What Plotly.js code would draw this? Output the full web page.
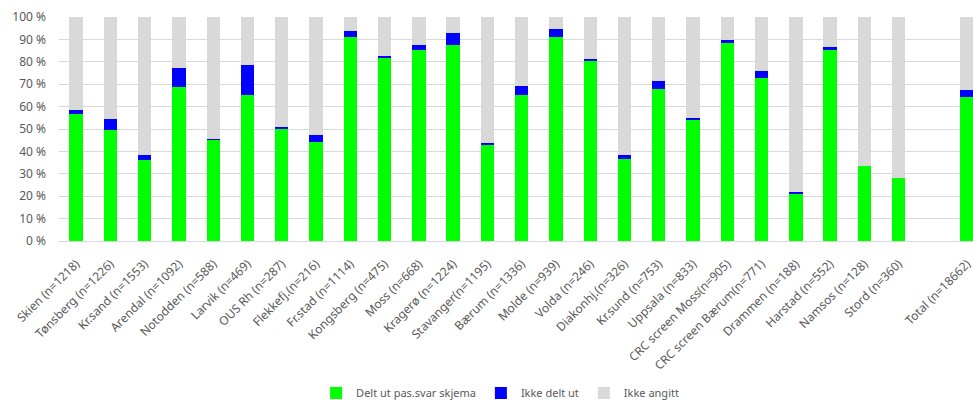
<!DOCTYPE html>
<html>
<head>
<meta charset="utf-8">
<script src="https://cdn.plot.ly/plotly-3.0.1.min.js"></script>
<style>
  html, body { margin: 0; padding: 0; background: #fff; }
  #chart { width: 973px; height: 400px; }
</style>
</head>
<body>
<div id="chart"></div>
<script>
// Sites (with sample sizes); the blank entry leaves a gap before the total
const sites = [
  "Skien (n=1218)", "Tønsberg (n=1226)", "Kr.sand (n=1553)", "Arendal (n=1092)",
  "Notodden (n=588)", "Larvik (n=469)", "OUS Rh (n=287)", "Flekkefj.(n=216)",
  "Fr.stad (n=1114)", "Kongsberg (n=475)", "Moss (n=668)", "Kragerø (n=1224)",
  "Stavanger(n=1195)", "Bærum (n=1336)", "Molde (n=939)", "Volda (n=246)",
  "Diakonhj.(n=326)", "Kr.sund (n=753)", "Uppsala (n=833)", "CRC screen Moss(n=905)",
  "CRC screen Bærum(n=771)", "Drammen (n=188)", "Harstad (n=552)", "Namsos (n=128)",
  "Stord (n=360)", " ", "Total (n=18662)"
];

// Share (%) handed the patient questionnaire
const deltUt = [
  56.8, 49.4, 36.2, 68.6, 44.9, 65.3, 49.9, 44.3,
  91.1, 81.8, 85.1, 87.5, 42.9, 65.3, 91.1, 80.2,
  36.5, 67.7, 54.2, 88.5, 72.8, 20.8, 85.1, 33.3,
  28.0, null, 64.1
];

// Share (%) not handed out
const ikkeDeltUt = [
  1.8, 4.9, 2.0, 8.5, 0.6, 13.4, 1.1, 3.0,
  2.5, 0.9, 2.5, 5.2, 1.0, 4.0, 3.7, 0.9,
  1.7, 3.7, 0.9, 1.4, 3.1, 0.9, 1.7, 0.0,
  0.0, null, 3.5
];

// Share (%) not stated
const ikkeAngitt = [
  41.4, 45.7, 61.8, 22.9, 54.5, 21.3, 49.0, 52.7,
  6.4, 17.3, 12.4, 7.3, 56.1, 30.7, 5.2, 18.9,
  61.8, 28.6, 44.9, 10.1, 24.1, 78.3, 13.2, 66.7,
  72.0, null, 32.4
];

const yTicks = [0, 10, 20, 30, 40, 50, 60, 70, 80, 90, 100];

const font = "Noto Sans, Open Sans, sans-serif";
const textGray = "#595959";

const traces = [
  { name: "Delt ut pas.svar skjema", y: deltUt, color: "#00ff00" },
  { name: "Ikke delt ut", y: ikkeDeltUt, color: "#0000ff" },
  { name: "Ikke angitt", y: ikkeAngitt, color: "#d9d9d9" }
].map(s => ({
  type: "bar",
  x: sites,
  y: s.y,
  name: s.name,
  marker: { color: s.color, line: { width: 0 } },
  hoverinfo: "x+y+name"
}));

const layout = {
  width: 973,
  height: 400,
  barmode: "stack",
  bargap: 0.61,
  paper_bgcolor: "#ffffff",
  plot_bgcolor: "#ffffff",
  margin: { l: 59, r: 0, t: 17, b: 159 },
  font: { family: font, color: textGray, size: 12 },
  showlegend: true,
  legend: {
    orientation: "h",
    xref: "container", yref: "container",
    x: 0.514, xanchor: "center",
    y: 0.0175, yanchor: "middle",
    font: { family: font, size: 11, color: textGray },
    itemwidth: 30,
    traceorder: "normal"
  },
  xaxis: {
    type: "category",
    categoryorder: "array",
    categoryarray: sites,
    range: [-0.5, 26.17],
    automargin: false,
    tickangle: -45,
    tickfont: { family: font, size: 12, color: textGray },
    ticklabelstandoff: 10,
    showgrid: false,
    showline: true,
    linecolor: "#d9d9d9",
    linewidth: 1,
    ticks: "",
    zeroline: false,
    fixedrange: true
  },
  yaxis: {
    range: [0, 100],
    automargin: false,
    tickvals: yTicks,
    ticktext: yTicks.map(v => v + " %"),
    tickfont: { family: font, size: 12, color: textGray },
    showgrid: true,
    gridcolor: "#d9d9d9",
    gridwidth: 1,
    zeroline: false,
    showline: false,
    ticks: "",
    ticklabelstandoff: 12,
    fixedrange: true
  }
};

Plotly.newPlot("chart", traces, layout, { displayModeBar: false, staticPlot: true });
</script>
</body>
</html>
